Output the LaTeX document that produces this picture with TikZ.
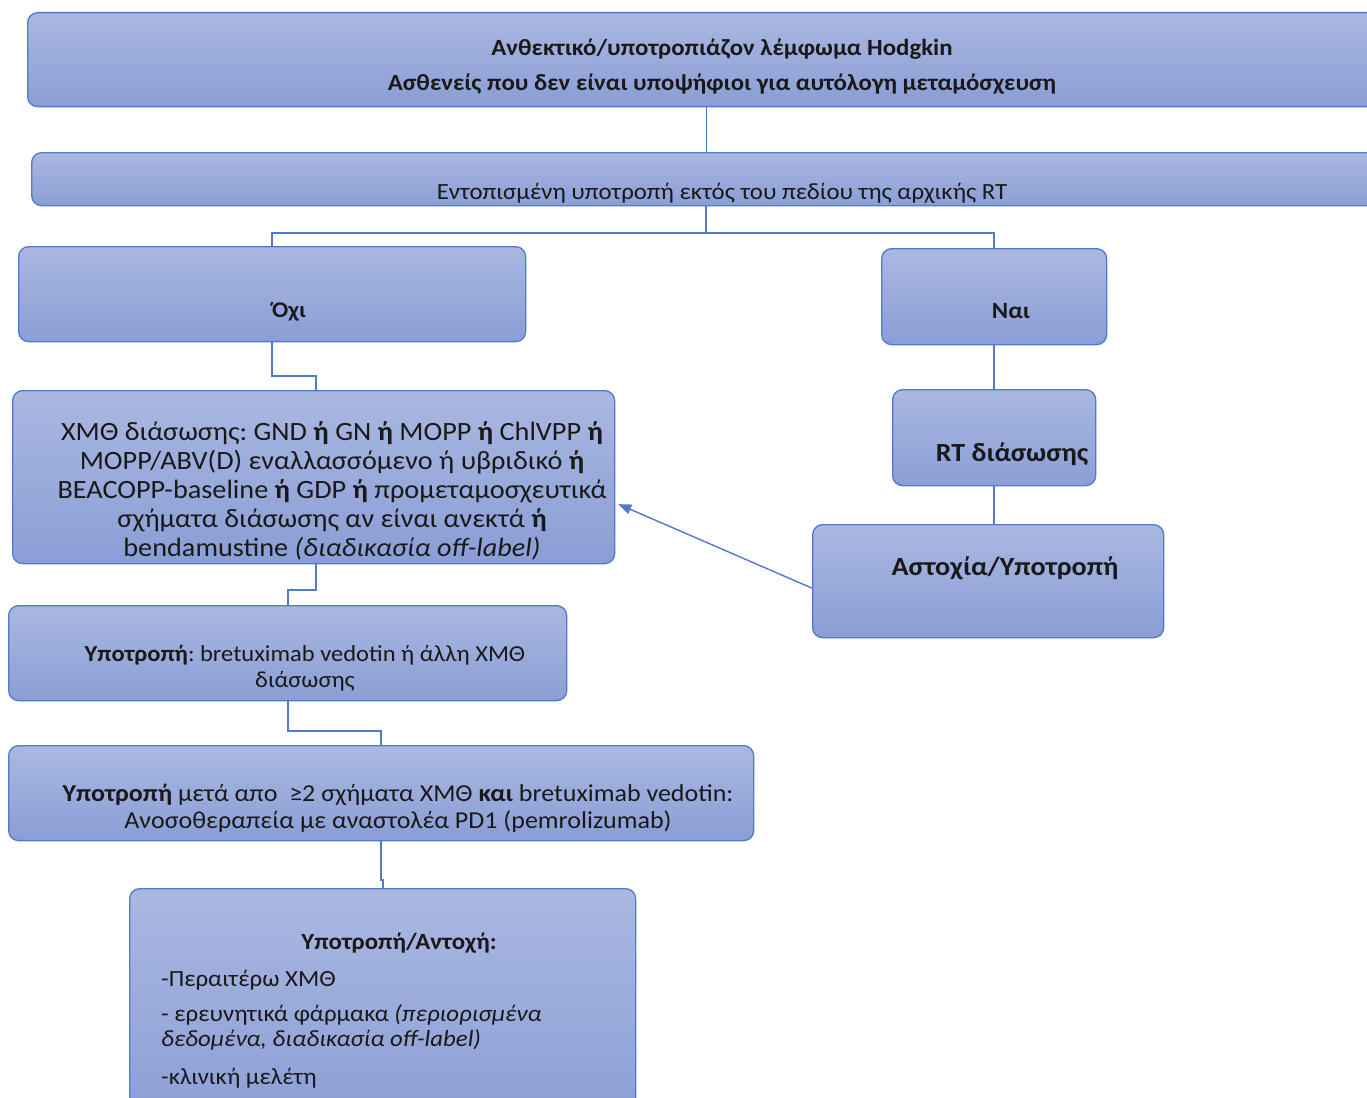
\documentclass[tikz,border=0pt]{standalone}
\usepackage{fontspec}
\setmainfont{Carlito}[FakeStretch=1.07]
\frenchspacing
\usetikzlibrary{arrows.meta,calc}
\definecolor{edge}{RGB}{79,123,201}
\definecolor{filltop}{RGB}{170,184,225}
\definecolor{fillbot}{RGB}{138,158,214}
\definecolor{ink}{RGB}{25,25,25}
\begin{document}
\begin{tikzpicture}[x=1pt,y=-1pt,
  box/.style={draw=edge, line width=1.3pt, rounded corners=10pt,
    top color=filltop, bottom color=fillbot, inner sep=0pt, anchor=north west},
  conn/.style={draw=edge, line width=1.4pt},
  lbl/.style={text=ink, inner sep=0pt, anchor=base},
  multi/.style={text=ink, inner sep=0pt, anchor=center, align=center},
  item/.style={text=ink, inner sep=0pt, anchor=base west},
  body/.style={font=\fontsize{23.2}{26}\selectfont},
  bodyb/.style={font=\bfseries\fontsize{23.2}{26}\selectfont},
]
\path[use as bounding box, clip] (0,0) rectangle (1367,1097);
\fill[white] (0,0) rectangle (1367,1097);

% boxes
\node[box, minimum width=1358pt, minimum height=94pt]  (head)  at (27,12)  {};
\node[box, minimum width=1350pt, minimum height=53pt]  (local) at (31,152) {};
\node[box, minimum width=507pt,  minimum height=95pt]  (no)    at (18,246) {};
\node[box, minimum width=225pt,  minimum height=96pt]  (yes)   at (881,248) {};
\node[box, minimum width=203pt,  minimum height=96pt]  (rt)    at (892,389) {};
\node[box, minimum width=351pt,  minimum height=113pt] (fail)  at (812,524) {};
\node[box, minimum width=602pt,  minimum height=173pt] (chemo) at (12,390) {};
\node[box, minimum width=558pt,  minimum height=95pt]  (bv)    at (8,605) {};
\node[box, minimum width=745pt,  minimum height=95pt]  (pd1)   at (8,745) {};
\node[box, minimum width=506pt,  minimum height=240pt] (last)  at (129,888) {};

% texts
\node[lbl, bodyb] (headA) at (722,56) {Ανθεκτικό/υποτροπιάζον λέμφωμα Hodgkin};
\node[lbl, bodyb] (headB) at (722,91) {Ασθενείς που δεν είναι υποψήφιοι για αυτόλογη μεταμόσχευση};
\node[lbl, body] (localT) at (722,199) {Εντοπισμένη υποτροπή εκτός του πεδίου της αρχικής RT};
\node[lbl, font=\bfseries\fontsize{22.4}{26}\selectfont] (noT) at (289,317) {Όχι};
\node[lbl, bodyb] (yesT) at (1011,318) {Ναι};
\node[lbl, font=\bfseries\fontsize{26.2}{29}\selectfont] (rtT) at (1012,461) {RT διάσωσης};
\node[lbl, font=\bfseries\fontsize{26.3}{31}\selectfont] (failT) at (1005,575) {Αστοχία/Υποτροπή};
\node[multi, font=\fontsize{26.4}{29}\selectfont] (chemoT) at (332,491) {ΧΜΘ διάσωσης: GND \textbf{ή} GN \textbf{ή} MOPP \textbf{ή} ChlVPP \textbf{ή}\\
  MOPP/ABV(D) εναλλασσόμενο ή υβριδικό \textbf{ή}\\
  BEACOPP-baseline \textbf{ή} GDP \textbf{ή} προμεταμοσχευτικά\\
  σχήματα διάσωσης αν είναι ανεκτά \textbf{ή}\\
  bendamustine \textit{(διαδικασία off-label)}};
\node[multi, font=\fontsize{22.9}{26}\selectfont] (bvT) at (305,668) {\textbf{Υποτροπή}: bretuximab vedotin ή άλλη ΧΜΘ\\ διάσωσης};
\node[multi, font=\fontsize{24.3}{27}\selectfont] (pd1T) at (398,808) {\textbf{Υποτροπή} μετά απο \ ≥2 σχήματα ΧΜΘ \textbf{και} bretuximab vedotin:\\
  Ανοσοθεραπεία με αναστολέα PD1 (pemrolizumab)};
\node[lbl, bodyb] (lastT) at (399,949) {Υποτροπή/Αντοχή:};
\node[item, body] (opt1)  at (161,986)  {-Περαιτέρω ΧΜΘ};
\node[item, body] (opt2)  at (161,1021) {- ερευνητικά φάρμακα \textit{(περιορισμένα}};
\node[item, body] (opt2b) at (161,1046) {\textit{δεδομένα, διαδικασία off-label)}};
\node[item, body] (opt3)  at (161,1084) {-κλινική μελέτη};

% junction points of the elbow connectors
\coordinate (j1) at (706,233);
\coordinate (j2) at (316,376);
\coordinate (j3) at (288,590);
\coordinate (j4) at (381,731);
\coordinate (j5) at (383,880);

% connectors
\draw[conn] (head.south) -- (local.north);
\draw[conn] (local.south -| j1) -- (j1);
\draw[conn] (no.north) |- (j1) -| (yes.north);
\draw[conn] (no.south) |- (j2) -- (chemo.north -| j2);
\draw[conn] (yes.south) -- (rt.north);
\draw[conn] (rt.south) -- (fail.north -| rt.south);
\draw[conn, -{Triangle[length=13pt,width=10pt]}] ($(fail.west)+(0,7)$) -- ($(chemo.east)+(3,27)$);
\draw[conn] (chemo.south -| j2) |- (j3) -- (bv.north -| j3);
\draw[conn] (bv.south -| j3) |- (j4) -- (pd1.north -| j4);
\draw[conn] (pd1.south -| j4) -- (j4 |- j5) -- (j5) -- (last.north -| j5);
\end{tikzpicture}
\end{document}
